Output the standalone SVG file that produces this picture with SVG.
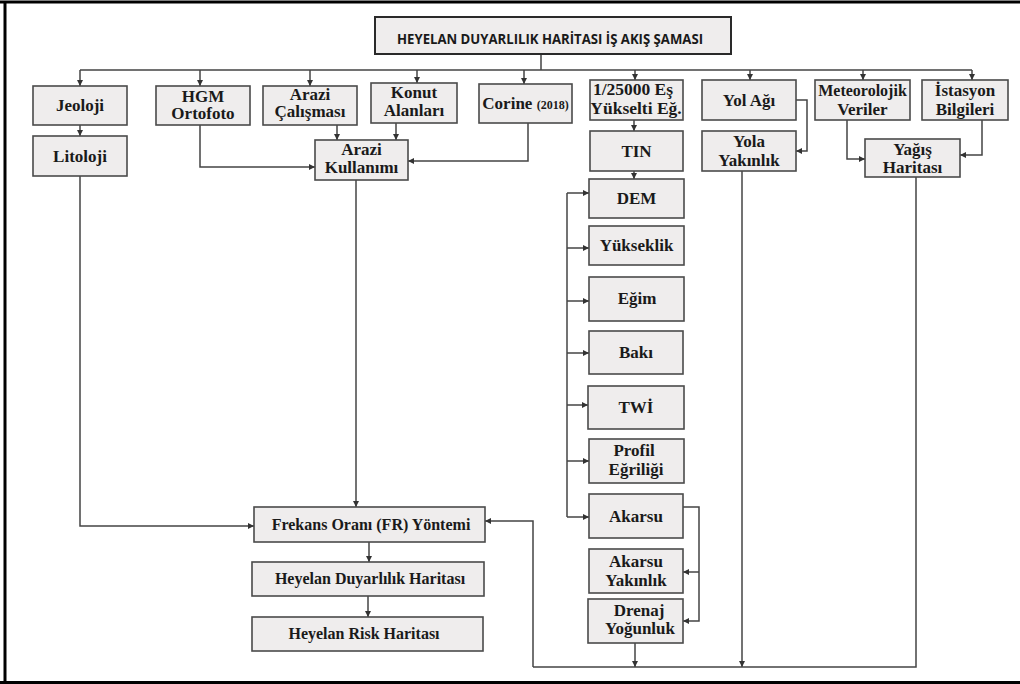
<svg xmlns="http://www.w3.org/2000/svg" width="1020" height="684" viewBox="0 0 1020 684">
<style>
.box{fill:#efeded;stroke:#4a4a4a;stroke-width:1.6}
.tbox{fill:#efeded;stroke:#2a2a2a;stroke-width:2}
.t{font-family:"Liberation Serif","Times New Roman",serif;font-weight:bold;font-size:17px;fill:#1a1a1a;text-anchor:middle}
.s16{font-size:16px}
.title{font-family:"Open Sans","Liberation Sans",sans-serif;font-weight:bold;font-size:15px;fill:#1a1a1a;text-anchor:middle}
.c{fill:none;stroke:#444;stroke-width:1.5}
.a{marker-end:url(#arr)}
</style>
<defs>
<marker id="arr" viewBox="0 0 10 10" refX="10" refY="5" markerWidth="7" markerHeight="6" markerUnits="userSpaceOnUse" orient="auto">
<path d="M0,0 L10,5 L0,10 z" fill="#333"/>
</marker>
</defs>
<rect width="1020" height="684" fill="#fff"/>
<path d="M0,2 H1020 M5,2 V683 M0,682.5 H1020" fill="none" stroke="#000" stroke-width="3"/>

<g id="connectors">
<path class="c" d="M541,54 V70 M80,70 H972"/>
<path class="c a" d="M80,70 V86"/>
<path class="c a" d="M200,70 V86"/>
<path class="c a" d="M310,70 V86"/>
<path class="c a" d="M417,70 V83"/>
<path class="c a" d="M524,70 V84"/>
<path class="c a" d="M635,70 V80"/>
<path class="c a" d="M750,70 V80"/>
<path class="c a" d="M863,70 V80"/>
<path class="c a" d="M972,70 V80"/>
<path class="c a" d="M80,125 V136"/>
<path class="c a" d="M200,125 V167 H315"/>
<path class="c a" d="M337,125 V140"/>
<path class="c a" d="M396,123 V140"/>
<path class="c a" d="M528,123 V161 H408"/>
<path class="c a" d="M634,120 V131"/>
<path class="c a" d="M634,171 V179"/>
<path class="c" d="M567,193 V517"/>
<path class="c a" d="M567,193 H589"/>
<path class="c a" d="M567,248 H589"/>
<path class="c a" d="M567,301 H589"/>
<path class="c a" d="M567,353 H589"/>
<path class="c a" d="M567,405 H588"/>
<path class="c a" d="M567,461 H589"/>
<path class="c a" d="M567,517 H589"/>
<path class="c a" d="M683,507 H699 V621 H683"/>
<path class="c a" d="M699,572 H683"/>
<path class="c a" d="M635,643 V667"/>
<path class="c a" d="M796,100 H807 V151 H796"/>
<path class="c a" d="M742,171 V667"/>
<path class="c a" d="M847,120 V159 H865"/>
<path class="c a" d="M982,120 V155 H960"/>
<path class="c" d="M916,177 V667 H533"/>
<path class="c a" d="M533,667 V521 H485"/>
<path class="c a" d="M80,176 V526 H254"/>
<path class="c a" d="M356,180 V507"/>
<path class="c a" d="M369,542 V562"/>
<path class="c a" d="M368,596 V617"/>
</g>

<g id="title"><rect class="tbox" x="375" y="17" width="356" height="37"/>
<text class="title" x="550" y="43.5" textLength="306" lengthAdjust="spacingAndGlyphs">HEYELAN DUYARLILIK HARİTASI İŞ AKIŞ ŞAMASI</text></g>

<g id="jeoloji"><rect class="box" x="33" y="86" width="94" height="39"/><text class="t" x="80" y="111">Jeoloji</text></g>
<g id="hgm"><rect class="box" x="156" y="86" width="94" height="39"/><text class="t" x="203" y="102">HGM</text><text class="t" x="203" y="119">Ortofoto</text></g>
<g id="arazi-calismasi"><rect class="box" x="263" y="86" width="94" height="39"/><text class="t" x="310" y="100">Arazi</text><text class="t" x="310" y="117">Çalışması</text></g>
<g id="konut"><rect class="box" x="371" y="83" width="86" height="40"/><text class="t" x="414" y="98">Konut</text><text class="t" x="414" y="116">Alanları</text></g>
<g id="corine"><rect class="box" x="479" y="84" width="93" height="39"/><text class="t" x="525.5" y="109">Corine <tspan style="font-size:12px">(2018)</tspan></text></g>
<g id="es-yukselti"><rect class="box" x="590" y="80" width="93" height="40"/><text class="t" x="633" y="95" style="font-size:17.5px">1/25000 Eş</text><text class="t" x="636" y="114" style="font-size:17.5px">Yükselti Eğ.</text></g>
<g id="yol-agi"><rect class="box" x="702" y="80" width="94" height="40"/><text class="t" x="749" y="106">Yol Ağı</text></g>
<g id="meteorolojik"><rect class="box" x="815" y="80" width="95" height="40"/><text class="t s16" x="862.5" y="96">Meteorolojik</text><text class="t" x="862.5" y="115">Veriler</text></g>
<g id="istasyon"><rect class="box" x="922" y="80" width="86" height="40"/><text class="t" x="965" y="96">İstasyon</text><text class="t" x="965" y="115">Bilgileri</text></g>

<g id="litoloji"><rect class="box" x="33" y="136" width="94" height="40"/><text class="t" x="80" y="162">Litoloji</text></g>
<g id="arazi-kullanimi"><rect class="box" x="315" y="140" width="93" height="40"/><text class="t" x="361.5" y="155">Arazi</text><text class="t" x="361.5" y="173">Kullanımı</text></g>
<g id="tin"><rect class="box" x="590" y="131" width="93" height="40"/><text class="t" x="636.5" y="157">TIN</text></g>
<g id="yola-yakinlik"><rect class="box" x="702" y="131" width="94" height="40"/><text class="t" x="749" y="147">Yola</text><text class="t" x="749" y="166">Yakınlık</text></g>
<g id="yagis"><rect class="box" x="865" y="139" width="95" height="38"/><text class="t" x="912.5" y="155">Yağış</text><text class="t" x="912.5" y="173">Haritası</text></g>

<g id="dem"><rect class="box" x="589" y="179" width="95" height="39"/><text class="t" x="636.5" y="204">DEM</text></g>
<g id="yukseklik"><rect class="box" x="589" y="226" width="95" height="39"/><text class="t" x="636.5" y="251">Yükseklik</text></g>
<g id="egim"><rect class="box" x="589" y="277" width="95" height="44"/><text class="t" x="637" y="304">Eğim</text></g>
<g id="baki"><rect class="box" x="589" y="331" width="94" height="43"/><text class="t" x="636" y="358">Bakı</text></g>
<g id="twi"><rect class="box" x="588" y="386" width="96" height="43"/><text class="t" x="636" y="413">TWİ</text></g>
<g id="profil"><rect class="box" x="589" y="439" width="95" height="44"/><text class="t" x="634" y="456">Profil</text><text class="t" x="636" y="475">Eğriliği</text></g>
<g id="akarsu"><rect class="box" x="589" y="494" width="94" height="44"/><text class="t" x="636" y="522">Akarsu</text></g>
<g id="akarsu-yakinlik"><rect class="box" x="589" y="549" width="94" height="44"/><text class="t" x="636" y="567">Akarsu</text><text class="t" x="636" y="586">Yakınlık</text></g>
<g id="drenaj"><rect class="box" x="588" y="599" width="95" height="44"/><text class="t" x="639" y="616">Drenaj</text><text class="t" x="640" y="634">Yoğunluk</text></g>

<g id="frekans"><rect class="box" x="254" y="507" width="231" height="35"/><text class="t s16" x="371" y="530">Frekans Oranı (FR) Yöntemi</text></g>
<g id="duyarlilik"><rect class="box" x="252" y="562" width="232" height="34"/><text class="t s16" x="370" y="584">Heyelan Duyarlılık Haritası</text></g>
<g id="risk"><rect class="box" x="252" y="617" width="231" height="34"/><text class="t s16" x="364" y="639">Heyelan Risk Haritası</text></g>
</svg>
